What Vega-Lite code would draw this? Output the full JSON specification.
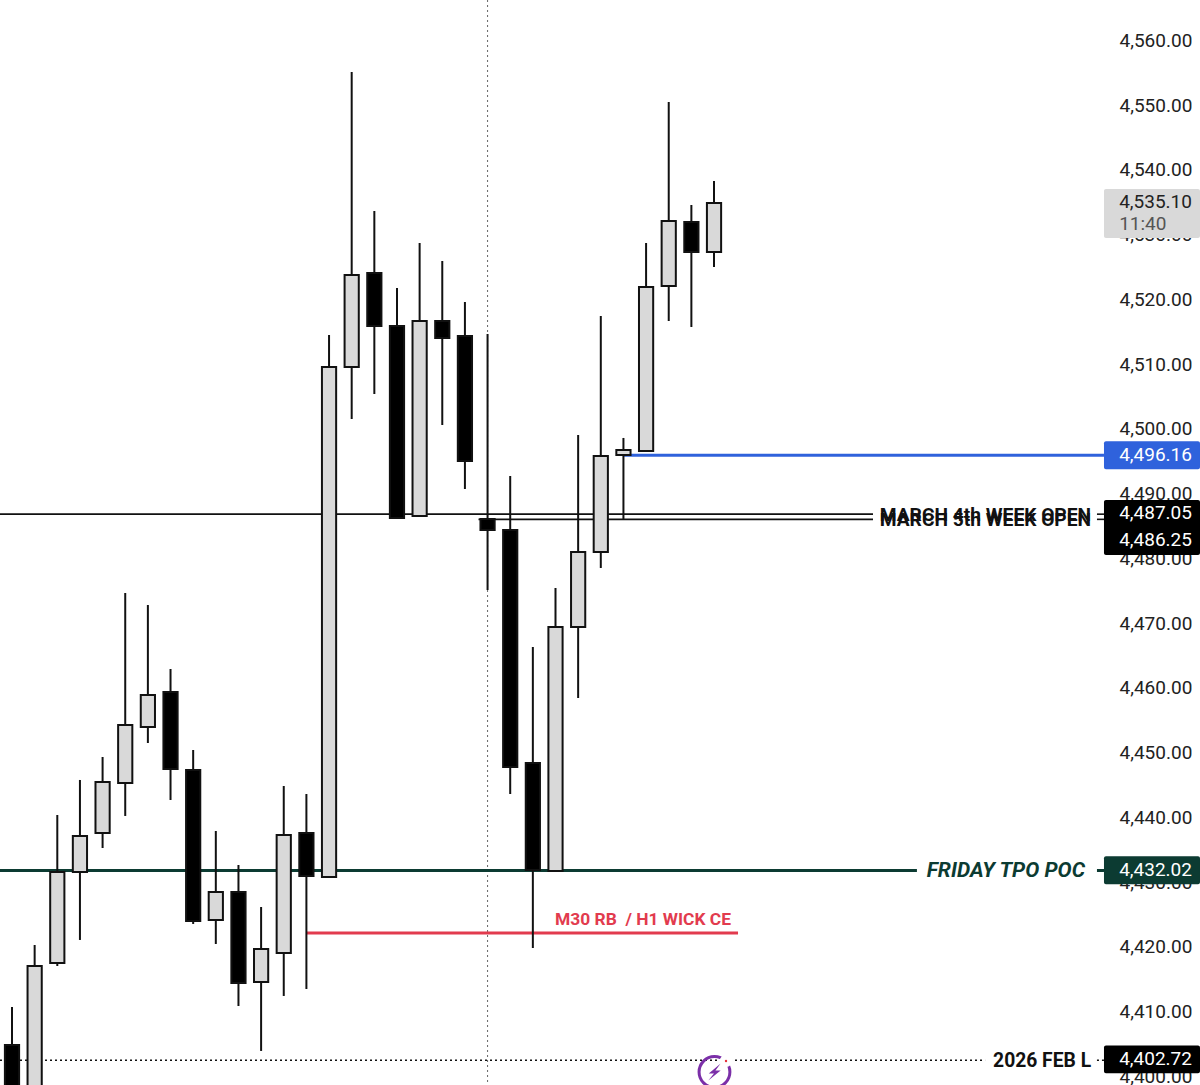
{
"$schema":"https://vega.github.io/schema/vega-lite/v6.json",
"width":1200,"height":1085,"padding":0,"autosize":{"type":"none"},
"background":"#ffffff",
"config":{"view":{"stroke":null},"text":{"font":"Roboto"}},
"resolve":{"scale":{"color":"independent"}},
"datasets":{
"candles":[
{"i":0,"open":4393.5,"close":4405.07,"high":4410.94,"low":4390,"dir":"down"},
{"i":1,"open":4385,"close":4417.27,"high":4420.51,"low":4385,"dir":"up"},
{"i":2,"open":4417.73,"close":4431.79,"high":4440.59,"low":4417.27,"dir":"up"},
{"i":3,"open":4431.79,"close":4437.35,"high":4446.0,"low":4421.29,"dir":"up"},
{"i":4,"open":4437.81,"close":4445.69,"high":4449.55,"low":4435.49,"dir":"up"},
{"i":5,"open":4445.53,"close":4454.49,"high":4474.88,"low":4440.44,"dir":"up"},
{"i":6,"open":4454.18,"close":4459.12,"high":4473.02,"low":4451.71,"dir":"up"},
{"i":7,"open":4459.59,"close":4447.7,"high":4463.14,"low":4442.91,"dir":"down"},
{"i":8,"open":4447.54,"close":4424.22,"high":4450.63,"low":4423.76,"dir":"down"},
{"i":9,"open":4424.38,"close":4428.7,"high":4438.12,"low":4420.67,"dir":"up"},
{"i":10,"open":4428.7,"close":4414.65,"high":4432.87,"low":4411.09,"dir":"down"},
{"i":11,"open":4414.8,"close":4419.9,"high":4426.38,"low":4404.15,"dir":"up"},
{"i":12,"open":4419.28,"close":4437.5,"high":4445.07,"low":4412.64,"dir":"up"},
{"i":13,"open":4437.81,"close":4431.17,"high":4443.83,"low":4413.72,"dir":"down"},
{"i":14,"open":4431.02,"close":4509.78,"high":4514.72,"low":4430.86,"dir":"up"},
{"i":15,"open":4509.78,"close":4523.99,"high":4555.34,"low":4501.75,"dir":"up"},
{"i":16,"open":4524.3,"close":4516.11,"high":4533.87,"low":4505.61,"dir":"down"},
{"i":17,"open":4516.11,"close":4486.46,"high":4521.98,"low":4486.46,"dir":"down"},
{"i":18,"open":4486.77,"close":4516.88,"high":4528.93,"low":4486.77,"dir":"up"},
{"i":19,"open":4516.88,"close":4514.26,"high":4526.15,"low":4500.82,"dir":"down"},
{"i":20,"open":4514.57,"close":4495.26,"high":4519.82,"low":4490.94,"dir":"down"},
{"i":21,"open":4486.31,"close":4484.61,"high":4514.88,"low":4475.34,"dir":"down"},
{"i":22,"open":4484.61,"close":4448.0,"high":4492.95,"low":4443.83,"dir":"down"},
{"i":23,"open":4448.62,"close":4432.1,"high":4466.54,"low":4420.05,"dir":"down"},
{"i":24,"open":4431.94,"close":4469.63,"high":4475.65,"low":4431.94,"dir":"up"},
{"i":25,"open":4469.63,"close":4481.21,"high":4499.28,"low":4458.66,"dir":"up"},
{"i":26,"open":4481.21,"close":4496.04,"high":4517.66,"low":4478.74,"dir":"up"},
{"i":27,"open":4496.19,"close":4496.96,"high":4498.82,"low":4486.31,"dir":"up"},
{"i":28,"open":4496.81,"close":4522.14,"high":4528.93,"low":4496.81,"dir":"up"},
{"i":29,"open":4522.29,"close":4532.33,"high":4550.71,"low":4516.88,"dir":"up"},
{"i":30,"open":4532.17,"close":4527.54,"high":4534.8,"low":4515.96,"dir":"down"},
{"i":31,"open":4527.54,"close":4535.11,"high":4538.51,"low":4525.22,"dir":"up"}
]},
"layer":[
{"data":{"values":[{"i":21,"price":4400}]},"mark":{"type":"rule","color":"#666666","strokeWidth":1,"strokeDash":[2,3]},
 "encoding":{"x":{"field":"i","type":"quantitative","scale":{"domain":[-0.53,52.46],"nice":false,"zero":false,"padding":0},"axis":null}}},
{"data":{"values":[{"price":4400}]},"mark":{"type":"rule","opacity":0},
 "encoding":{"y":{"field":"price","type":"quantitative","scale":{"domain":[4398.89,4566.46],"nice":false,"zero":false,"padding":0},
 "axis":{"orient":"right","offset":-81,"values":[4400,4410,4420,4430,4440,4450,4460,4470,4480,4490,4500,4510,4520,4530,4540,4550,4560],"format":",.2f","title":null,"grid":false,"domain":false,"ticks":false,"labelPadding":0,"labelFont":"Roboto","labelFontSize":19,"labelColor":"#222222","labelAlign":"left","labelOverlap":false,"labelFlush":false,"labelBound":false,"labelOffset":-1.5,"zindex":0}}}},
{"data":{"values":[{"from":-0.53,"to":38.02,"price":4487.05},{"from":20.6,"to":38.02,"price":4486.25},{"from":47.91,"to":48.22,"price":4487.05},{"from":47.91,"to":48.22,"price":4486.25}]},
 "mark":{"type":"rule","color":"#111111","strokeWidth":1.6},
 "encoding":{"x":{"field":"from","type":"quantitative"},"x2":{"field":"to"},"y":{"field":"price","type":"quantitative"}}},
{"data":{"values":[{"from":27,"to":48.22,"price":4496.16}]},"mark":{"type":"rule","color":"#2f62dc","strokeWidth":3},
 "encoding":{"x":{"field":"from","type":"quantitative"},"x2":{"field":"to"},"y":{"field":"price","type":"quantitative"}}},
{"data":{"values":[{"from":-0.53,"to":39.96,"price":4432.02},{"from":47.91,"to":48.22,"price":4432.02}]},"mark":{"type":"rule","color":"#0c3b32","strokeWidth":3},
 "encoding":{"x":{"field":"from","type":"quantitative"},"x2":{"field":"to"},"y":{"field":"price","type":"quantitative"}}},
{"data":{"values":[{"from":13,"to":32.06,"price":4422.37}]},"mark":{"type":"rule","color":"#e23b4e","strokeWidth":3},
 "encoding":{"x":{"field":"from","type":"quantitative"},"x2":{"field":"to"},"y":{"field":"price","type":"quantitative"}}},
{"data":{"values":[{"from":-0.53,"to":42.97,"price":4402.72},{"from":47.91,"to":48.22,"price":4402.72}]},"mark":{"type":"rule","color":"#111111","strokeWidth":1.5,"strokeDash":[2,3]},
 "encoding":{"x":{"field":"from","type":"quantitative"},"x2":{"field":"to"},"y":{"field":"price","type":"quantitative"}}},
{"data":{"name":"candles"},"mark":{"type":"rule","color":"#111111","strokeWidth":2,"clip":true},
 "encoding":{"x":{"field":"i","type":"quantitative"},"y":{"field":"high","type":"quantitative"},"y2":{"field":"low"}}},
{"data":{"name":"candles"},"mark":{"type":"bar","orient":"vertical","size":14.2,"stroke":"#111111","strokeWidth":2,"clip":true},
 "encoding":{"x":{"field":"i","type":"quantitative"},"y":{"field":"open","type":"quantitative"},"y2":{"field":"close"},
 "color":{"field":"dir","type":"nominal","legend":null,"scale":{"domain":["up","down"],"range":["#d9d9d9","#000000"]}}}},
{"data":{"values":[{"from":48.22,"to":52.46,"hi":4537.27,"lo":4529.7,"tag":"close"},{"from":48.22,"to":52.46,"hi":4498.31,"lo":4494.0,"tag":"blue"},{"from":48.22,"to":52.46,"hi":4489.25,"lo":4480.75,"tag":"black"},{"from":48.22,"to":52.46,"hi":4434.2,"lo":4429.9,"tag":"green"},{"from":48.22,"to":52.46,"hi":4405.0,"lo":4400.7,"tag":"black"}]},
 "mark":{"type":"rect","cornerRadius":2},
 "encoding":{"x":{"field":"from","type":"quantitative"},"x2":{"field":"to"},"y":{"field":"hi","type":"quantitative"},"y2":{"field":"lo"},
 "color":{"field":"tag","type":"nominal","legend":null,"scale":{"domain":["close","blue","black","green"],"range":["#d9d9d9","#2f62dc","#000000","#0c3b32"]}}}},
{"data":{"values":[{"x":48.89,"price":4496.16,"t":"4,496.16"},{"x":48.89,"price":4487.23,"t":"4,487.05"},{"x":48.89,"price":4483.06,"t":"4,486.25"},{"x":48.89,"price":4432.08,"t":"4,432.02"},{"x":48.89,"price":4402.91,"t":"4,402.72"}]},
 "mark":{"type":"text","align":"left","baseline":"middle","font":"Roboto","fontSize":19,"color":"#ffffff"},
 "encoding":{"x":{"field":"x","type":"quantitative"},"y":{"field":"price","type":"quantitative"},"text":{"field":"t"}}},
{"data":{"values":[{"x":48.89,"price":4535.26,"t":"4,535.10"}]},
 "mark":{"type":"text","align":"left","baseline":"middle","font":"Roboto","fontSize":19,"color":"#222222"},
 "encoding":{"x":{"field":"x","type":"quantitative"},"y":{"field":"price","type":"quantitative"},"text":{"field":"t"}}},
{"data":{"values":[{"x":48.89,"price":4531.87,"t":"11:40"}]},
 "mark":{"type":"text","align":"left","baseline":"middle","font":"Roboto","fontSize":19,"color":"#555555"},
 "encoding":{"x":{"field":"x","type":"quantitative"},"y":{"field":"price","type":"quantitative"},"text":{"field":"t"}}},
{"data":{"values":[{"x":47.65,"price":4486.95,"t":"MARCH 4th WEEK OPEN"},{"x":47.65,"price":4486.15,"t":"MARCH 5th WEEK OPEN"}]},
 "mark":{"type":"text","align":"right","baseline":"middle","font":"Roboto","fontWeight":"bold","fontSize":19.2,"color":"#111111"},
 "encoding":{"x":{"field":"x","type":"quantitative"},"y":{"field":"price","type":"quantitative"},"text":{"field":"t"}}},
{"data":{"values":[{"x":47.38,"price":4432.0,"t":"FRIDAY TPO POC"}]},
 "mark":{"type":"text","align":"right","baseline":"middle","font":"Roboto","fontWeight":"bold","fontStyle":"italic","fontSize":21,"color":"#0c3b32"},
 "encoding":{"x":{"field":"x","type":"quantitative"},"y":{"field":"price","type":"quantitative"},"text":{"field":"t"}}},
{"data":{"values":[{"x":47.65,"price":4402.6,"t":"2026 FEB L"}]},
 "mark":{"type":"text","align":"right","baseline":"middle","font":"Roboto","fontWeight":"bold","fontSize":19.3,"color":"#111111"},
 "encoding":{"x":{"field":"x","type":"quantitative"},"y":{"field":"price","type":"quantitative"},"text":{"field":"t"}}},
{"data":{"values":[{"x":31.75,"price":4424.4,"t":"M30 RB \u00a0/ H1 WICK CE"}]},
 "mark":{"type":"text","align":"right","baseline":"middle","font":"Roboto","fontWeight":"bold","fontSize":17.4,"color":"#e23b4e"},
 "encoding":{"x":{"field":"x","type":"quantitative"},"y":{"field":"price","type":"quantitative"},"text":{"field":"t"}}},
{"data":{"values":[{"x":31.02,"price":4400.9}]},
 "mark":{"type":"point","shape":"circle","size":950,"filled":false,"stroke":"#7b2fa8","strokeWidth":3,"opacity":1},
 "encoding":{"x":{"field":"x","type":"quantitative"},"y":{"field":"price","type":"quantitative"}}},
{"data":{"values":[{"x":31.02,"price":4400.9}]},
 "mark":{"type":"point","shape":"M0.65,-0.9 L-0.6,0.15 L-0.05,0.15 L-0.65,0.9 L0.65,-0.15 L0.1,-0.15 Z","size":361,"filled":true,"fill":"#7b2fa8","stroke":null,"opacity":1},
 "encoding":{"x":{"field":"x","type":"quantitative"},"y":{"field":"price","type":"quantitative"}}},
{"data":{"values":[{"x":31.53,"price":4402.6}]},
 "mark":{"type":"point","shape":"circle","size":55,"filled":true,"fill":"#e5343f","stroke":"#ffffff","strokeWidth":5,"opacity":1},
 "encoding":{"x":{"field":"x","type":"quantitative"},"y":{"field":"price","type":"quantitative"}}}
]
}
